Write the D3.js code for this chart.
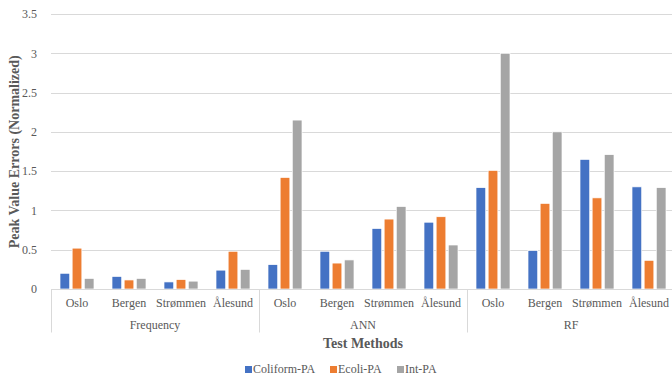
<!DOCTYPE html>
<html>
<head>
<meta charset="utf-8">
<script src="https://cdn.jsdelivr.net/npm/d3@7"></script>
<style>
  body { margin: 0; background: #fff; }
  svg { display: block; font-family: "Liberation Serif", "Times New Roman", serif; }
</style>
</head>
<body>
<div id="chart"></div>
<script>
/* Clustered bar chart: peak value errors per method and city */

const methods = ["Frequency", "ANN", "RF"];
const cities = ["Oslo", "Bergen", "Strømmen", "Ålesund"];
const seriesNames = ["Coliform-PA", "Ecoli-PA", "Int-PA"];
const colors = ["#4472C4", "#ED7D31", "#A5A5A5"];

// one value per method/city, in the order of methods x cities
const coliform = [0.20, 0.16, 0.09, 0.24,  0.31, 0.48, 0.77, 0.85,  1.29, 0.49, 1.65, 1.30];
const ecoli    = [0.52, 0.115, 0.12, 0.48, 1.42, 0.33, 0.89, 0.92,  1.51, 1.09, 1.16, 0.365];
const intPA    = [0.135, 0.135, 0.10, 0.25, 2.15, 0.37, 1.05, 0.56, 3.00, 2.00, 1.71, 1.29];

const yTicks = [0, 0.5, 1, 1.5, 2, 2.5, 3, 3.5];

const width = 672,
      height = 380,
      margin = ({ top: 14, right: -3, bottom: 91, left: 51 });

// build rows from the arrays
const rows = [];
methods.forEach((m, i) => {
    cities.forEach((c, j) => {
        const k = i * cities.length + j;
        rows.push({ key: m + "|" + c, method: m, city: c, values: [coliform[k], ecoli[k], intPA[k]] });
    });
});

let svg = d3.select("#chart")
    .append("svg")
    .attr("width", width)
    .attr("height", height);

let x = d3.scaleBand()
    .domain(rows.map(d => d.key))
    .range([margin.left, width - margin.right])
    .padding(0);

let xGroup = d3.scaleBand()
    .domain(methods)
    .range([margin.left, width - margin.right]);

let x1 = d3.scaleBand()
    .domain(seriesNames)
    .range([x.bandwidth() / 2 - 17, x.bandwidth() / 2 + 17])
    .paddingInner(0.2);

let y = d3.scaleLinear()
    .domain([0, 3.5])
    .range([height - margin.bottom, margin.top]);

// gridlines
svg.append("g")
    .selectAll("line")
    .data(yTicks.slice(1))
    .join("line")
    .attr("x1", margin.left)
    .attr("x2", width)
    .attr("y1", d => Math.round(y(d)) + 0.5)
    .attr("y2", d => Math.round(y(d)) + 0.5)
    .attr("stroke", "#d9d9d9")
    .attr("stroke-width", 1);

// y axis labels
let yAxis = svg.append("g")
    .attr("transform", `translate(${margin.left - 11},0)`)
    .call(d3.axisLeft(y).tickValues(yTicks).tickSize(0).tickFormat(d => d));
yAxis.select(".domain").remove();
yAxis.selectAll("text")
    .attr("fill", "#595959")
    .attr("font-size", 12)
    .attr("font-family", "Liberation Serif, serif");

// bars
let bar = svg.selectAll(".bar")
    .data(rows)
    .join("g")
    .attr("class", "bar")
    .attr("transform", d => `translate(${x(d.key)},0)`);

bar.selectAll("rect")
    .data(d => d.values.map((v, i) => ({ name: seriesNames[i], value: v, color: colors[i] })))
    .join("rect")
    .attr("x", d => x1(d.name))
    .attr("width", x1.bandwidth())
    .attr("y", d => y(d.value))
    .attr("height", d => y(0) - y(d.value))
    .attr("fill", d => d.color)
    .attr("stroke", "#fff")
    .attr("stroke-width", 0.7);

// baseline
const base = Math.round(y(0)) + 0.5;
svg.append("line")
    .attr("x1", margin.left).attr("x2", width)
    .attr("y1", base).attr("y2", base)
    .attr("stroke", "#d9d9d9");

// group dividers
svg.append("g")
    .selectAll("line")
    .data(methods.map(m => xGroup(m)))
    .join("line")
    .attr("x1", d => Math.round(d) + 0.5)
    .attr("x2", d => Math.round(d) + 0.5)
    .attr("y1", base)
    .attr("y2", base + 43)
    .attr("stroke", "#d9d9d9");

// city labels
svg.append("g")
    .selectAll("text")
    .data(rows)
    .join("text")
    .attr("x", d => x(d.key) + x.bandwidth() / 2)
    .attr("y", base + 17)
    .attr("text-anchor", "middle")
    .attr("font-size", 12)
    .attr("fill", "#595959")
    .text(d => d.city);

// method labels
svg.append("g")
    .selectAll("text")
    .data(methods)
    .join("text")
    .attr("x", d => xGroup(d) + xGroup.bandwidth() / 2)
    .attr("y", base + 39)
    .attr("text-anchor", "middle")
    .attr("font-size", 12)
    .attr("fill", "#595959")
    .text(d => d);

// axis titles
svg.append("text")
    .attr("x", (margin.left + width - margin.right) / 2)
    .attr("y", base + 58)
    .attr("text-anchor", "middle")
    .attr("font-size", 14)
    .attr("font-weight", "bold")
    .attr("fill", "#595959")
    .text("Test Methods");

svg.append("text")
    .attr("transform", `translate(19,${(margin.top + base) / 2}) rotate(-90)`)
    .attr("text-anchor", "middle")
    .attr("font-size", 14)
    .attr("font-weight", "bold")
    .attr("fill", "#595959")
    .text("Peak Value Errors (Normalized)");

// legend
const legendX = [245, 330, 397];
let legend = svg.append("g")
    .selectAll("g")
    .data(seriesNames)
    .join("g")
    .attr("transform", (d, i) => `translate(${legendX[i]},${366})`);

legend.append("rect")
    .attr("width", 7)
    .attr("height", 7)
    .attr("fill", (d, i) => colors[i]);

legend.append("text")
    .attr("x", 8)
    .attr("y", 7)
    .attr("font-size", 12)
    .attr("fill", "#595959")
    .text(d => d);
</script>
</body>
</html>
